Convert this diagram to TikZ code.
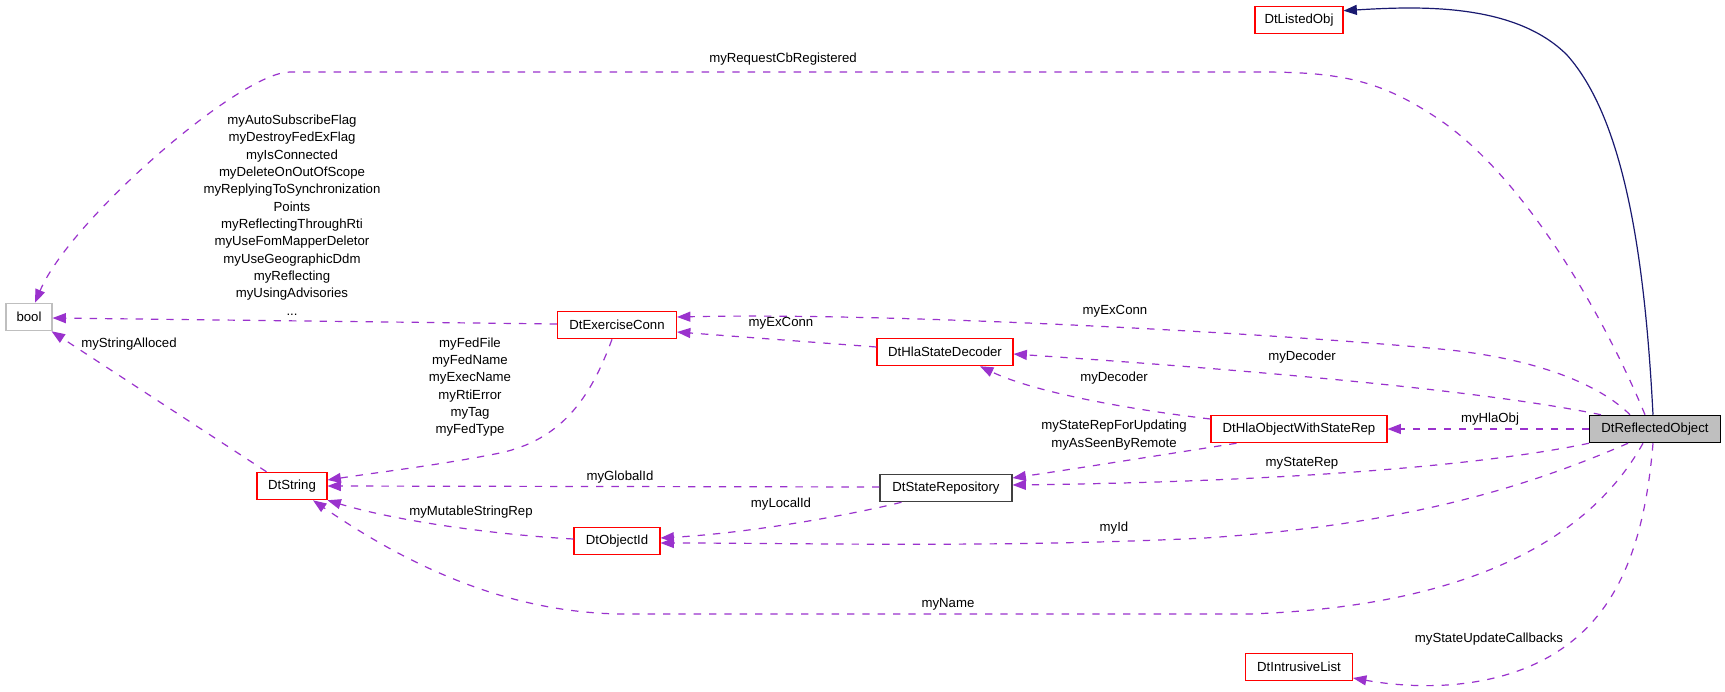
\documentclass[tikz,border=0pt]{standalone}
\usepackage{fontspec}
\setmainfont{Liberation Sans}
\usetikzlibrary{arrows.meta,calc}
\definecolor{usecol}{HTML}{9A32CD}
\definecolor{navyc}{HTML}{191970}
\definecolor{grayfill}{HTML}{BFBFBF}
\definecolor{boolgray}{HTML}{BFBFBF}
\definecolor{darkbd}{HTML}{404040}
\begin{document}
\begin{tikzpicture}[x=0.75pt,y=-0.75pt,
  box/.style={draw=red, line width=0.8pt, minimum height=20.6pt, inner xsep=1pt, inner ysep=0pt, font=\fontsize{9.9}{12}\selectfont, text=black},
  wd/.style={minimum width={#1*0.75pt}},
  lbl/.style={inner sep=0pt, font=\fontsize{9.9}{13}\selectfont, align=center},
  use/.style={draw=usecol, line width=0.9pt, dash pattern=on 5.5pt off 6pt, -{Triangle[length=10pt,width=7.5pt,fill=usecol]}},
  inh/.style={draw=navyc, line width=0.9pt, -{Triangle[length=10pt,width=7.5pt,fill=navyc]}},
]
\useasboundingbox[fill=white] (0,0) rectangle (1725,692);

% classes
\node[box,wd=46,draw=boolgray] (bool) at (29,317) {bool};
\node[box,wd=70] (str) at (292,486) {DtString};
\node[box,wd=119] (exc) at (617,325) {DtExerciseConn};
\node[box,wd=86] (oid) at (617,541) {DtObjectId};
\node[box,wd=136] (dec) at (945,352) {DtHlaStateDecoder};
\node[box,wd=132,draw=darkbd] (srep) at (946,488) {DtStateRepository};
\node[box,wd=176] (hlao) at (1299,429) {DtHlaObjectWithStateRep};
\node[box,wd=88] (lst) at (1299,20) {DtListedObj};
\node[box,wd=107] (ilist) at (1299,667) {DtIntrusiveList};
\node[box,wd=131,draw=black,fill=grayfill] (ro) at (1655,429) {DtReflectedObject};

% inheritance
\draw[inh] ($(ro.north)+(-2,0)$) .. controls (1645,260) and (1625,120) .. (1567,55) .. controls (1515,3) and (1420,6) .. ($(lst.north east)+(0,5)$);

% usage edges
\draw[use] ($(ro.north)+(-10,0)$) .. controls (1610,330) and (1530,180) .. (1437,118) .. controls (1380,80) and (1340,72) .. (1260,72) -- (290,72) .. controls (240,72) and (70,220) .. ($(bool.north)+(6,0)$);
\draw[use] ($(exc.west)+(0,-1)$) -- ($(bool.east)+(0,1)$);
\draw[use] ($(str.north west)+(10,0)$) -- ($(bool.south east)+(-1,0)$);
\draw[use] ($(exc.south)+(-5,0)$) .. controls (590,400) and (560,440) .. (500,453) .. controls (440,465) and (380,472) .. ($(str.east)+(0,-6)$);
\draw[use] ($(dec.west)+(0,-5)$) -- ($(exc.east)+(0,7)$);
\draw[use] ($(ro.north)+(-25,0)$) .. controls (1600,385) and (1540,360) .. (1450,350) .. controls (1300,335) and (900,312) .. ($(exc.east)+(0,-8)$);
\draw[use] ($(ro.north west)+(12,0)$) .. controls (1480,390) and (1250,370) .. ($(dec.east)+(0,2)$);
\draw[use] ($(hlao.west)+(0,-10)$) .. controls (1150,412) and (1040,395) .. ($(dec.south)+(35,0)$);
\draw[use] ($(hlao.south west)+(26,0)$) .. controls (1180,452) and (1080,468) .. ($(srep.east)+(0,-10)$);
\draw[use] (ro.south west) .. controls (1470,468) and (1260,482) .. ($(srep.east)+(0,-3)$);
\draw[use] (ro.west) -- (hlao.east);
\draw[use] ($(ro.south)+(-27,0)$) .. controls (1520,490) and (1400,525) .. (1205,538) .. controls (1000,548) and (800,543) .. ($(oid.east)+(0,2)$);
\draw[use] ($(srep.south west)+(22,0)$) .. controls (850,515) and (750,533) .. ($(oid.east)+(0,-3)$);
\draw[use] ($(srep.west)+(0,-1)$) -- (str.east);
\draw[use] ($(oid.west)+(0,-2)$) .. controls (500,535) and (400,522) .. (str.south east);
\draw[use] ($(ro.south)+(-12,0)$) .. controls (1600,520) and (1500,605) .. (1250,614) -- (620,614) .. controls (500,612) and (400,560) .. ($(str.south)+(21,0)$);
\draw[use] ($(ro.south)+(-2,0)$) .. controls (1645,540) and (1620,610) .. (1560,650) .. controls (1500,690) and (1420,690) .. ($(ilist.east)+(0,11)$);

% labels
\node[lbl] (lreq) at (783,59) {myRequestCbRegistered};
\node[lbl] (lbool) at (292,215) {myAutoSubscribeFlag\\myDestroyFedExFlag\\myIsConnected\\myDeleteOnOutOfScope\\myReplyingToSynchronization\\Points\\myReflectingThroughRti\\myUseFomMapperDeletor\\myUseGeographicDdm\\myReflecting\\myUsingAdvisories\\...};
\node[lbl] (lsa) at (129,344) {myStringAlloced};
\node[lbl] (lfed) at (470,387) {myFedFile\\myFedName\\myExecName\\myRtiError\\myTag\\myFedType};
\node[lbl] (lexl) at (781,323) {myExConn};
\node[lbl] (lexu) at (1115,311) {myExConn};
\node[lbl] (ldecu) at (1302,357) {myDecoder};
\node[lbl] (ldecl) at (1114,378) {myDecoder};
\node[lbl] (lsru) at (1114,435) {myStateRepForUpdating\\myAsSeenByRemote};
\node[lbl] (lsr) at (1302,463) {myStateRep};
\node[lbl] (lhla) at (1490,419) {myHlaObj};
\node[lbl] (lgid) at (620,477) {myGlobalId};
\node[lbl] (llid) at (781,504) {myLocalId};
\node[lbl] (lmsr) at (471,512) {myMutableStringRep};
\node[lbl] (lid) at (1114,528) {myId};
\node[lbl] (lname) at (948,604) {myName};
\node[lbl] (lsuc) at (1489,639) {myStateUpdateCallbacks};
\end{tikzpicture}
\end{document}
